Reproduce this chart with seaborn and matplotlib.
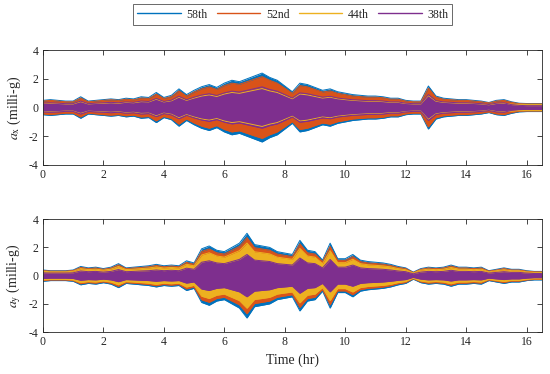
import numpy as np
import pandas as pd
import matplotlib.pyplot as plt
import seaborn as sns

# ---------------- data (peak amplitude envelope, milli-g, every 0.25 hr) ----------------
time_hr = np.linspace(0, 16.5, 67)
series_names = ['58th', '52nd', '44th', '38th']
series_colors = ['#0072BD', '#D95319', '#EDB120', '#7E2F8E']

ax_58 = [0.5, 0.55, 0.5, 0.45, 0.45, 0.75, 0.45, 0.5,
         0.55, 0.6, 0.55, 0.65, 0.6, 0.75, 0.7, 1.05,
         0.7, 0.85, 1.3, 0.9, 1.2, 1.45, 1.6, 1.4,
         1.7, 1.9, 1.8, 2.0, 2.2, 2.4, 2.1, 1.9,
         1.5, 1.1, 1.7, 1.6, 1.4, 1.2, 1.3, 1.1,
         1.0, 0.9, 0.85, 0.8, 0.8, 0.75, 0.65, 0.65,
         0.5, 0.45, 0.45, 1.5, 0.8, 0.65, 0.6, 0.55,
         0.55, 0.5, 0.45, 0.35, 0.5, 0.55, 0.4, 0.3,
         0.28, 0.28, 0.28]
ax_52 = [0.45, 0.5, 0.45, 0.4, 0.4, 0.66, 0.4, 0.45,
         0.5, 0.54, 0.5, 0.58, 0.54, 0.66, 0.63, 0.93,
         0.63, 0.76, 1.16, 0.8, 1.08, 1.3, 1.44, 1.26,
         1.53, 1.7, 1.62, 1.8, 1.98, 2.15, 1.9, 1.7,
         1.35, 0.99, 1.53, 1.44, 1.26, 1.08, 1.16, 0.99,
         0.9, 0.8, 0.76, 0.72, 0.72, 0.68, 0.58, 0.58,
         0.45, 0.4, 0.4, 1.35, 0.72, 0.58, 0.54, 0.5,
         0.5, 0.45, 0.4, 0.32, 0.45, 0.5, 0.36, 0.27,
         0.25, 0.25, 0.25]
ax_44 = [0.28, 0.3, 0.28, 0.25, 0.25, 0.41, 0.25, 0.28,
         0.3, 0.33, 0.3, 0.36, 0.33, 0.41, 0.39, 0.58,
         0.39, 0.47, 0.72, 0.5, 0.66, 0.8, 0.88, 0.77,
         0.94, 1.05, 0.99, 1.1, 1.21, 1.32, 1.16, 1.05,
         0.83, 0.61, 0.94, 0.88, 0.77, 0.66, 0.72, 0.61,
         0.55, 0.5, 0.47, 0.44, 0.44, 0.41, 0.36, 0.36,
         0.28, 0.25, 0.25, 0.83, 0.44, 0.36, 0.33, 0.3,
         0.3, 0.28, 0.25, 0.19, 0.28, 0.3, 0.24, 0.22,
         0.22, 0.22, 0.22]
ax_38 = [0.3, 0.33, 0.3, 0.27, 0.27, 0.45, 0.27, 0.3,
         0.33, 0.36, 0.33, 0.39, 0.36, 0.45, 0.42, 0.63,
         0.42, 0.51, 0.78, 0.54, 0.72, 0.87, 0.96, 0.84,
         1.02, 1.14, 1.08, 1.2, 1.32, 1.44, 1.26, 1.14,
         0.9, 0.66, 1.02, 0.96, 0.84, 0.72, 0.78, 0.66,
         0.6, 0.54, 0.51, 0.48, 0.48, 0.45, 0.39, 0.39,
         0.3, 0.27, 0.27, 0.9, 0.48, 0.39, 0.36, 0.33,
         0.33, 0.3, 0.27, 0.21, 0.3, 0.33, 0.2, 0.15,
         0.13, 0.13, 0.13]

ay_58 = [0.4, 0.35, 0.35, 0.35, 0.4, 0.65, 0.55, 0.6,
         0.5, 0.6, 0.85, 0.55, 0.6, 0.65, 0.7, 0.8,
         0.7, 0.75, 0.7, 1.05, 0.9, 1.9, 2.1, 1.8,
         1.7, 2.0, 2.3, 3.0, 2.2, 2.1, 2.0, 1.7,
         1.6, 1.5, 2.5, 1.8, 1.7, 1.1, 2.3, 1.2,
         1.2, 1.5, 1.1, 1.0, 0.95, 0.9, 0.8, 0.65,
         0.55, 0.25, 0.5, 0.6, 0.55, 0.6, 0.75, 0.6,
         0.6, 0.55, 0.6, 0.35, 0.45, 0.55, 0.45, 0.45,
         0.35, 0.3, 0.3]
ay_52 = [0.36, 0.32, 0.32, 0.32, 0.36, 0.58, 0.5, 0.54,
         0.45, 0.54, 0.76, 0.5, 0.54, 0.58, 0.63, 0.72,
         0.63, 0.68, 0.63, 0.94, 0.81, 1.71, 1.89, 1.62,
         1.53, 1.8, 2.07, 2.7, 1.98, 1.89, 1.8, 1.53,
         1.44, 1.35, 2.25, 1.62, 1.53, 0.99, 2.07, 1.08,
         1.08, 1.35, 0.99, 0.9, 0.86, 0.81, 0.72, 0.58,
         0.5, 0.22, 0.45, 0.54, 0.5, 0.54, 0.68, 0.54,
         0.54, 0.5, 0.54, 0.32, 0.4, 0.5, 0.4, 0.4,
         0.32, 0.27, 0.27]
ay_44 = [0.31, 0.27, 0.27, 0.27, 0.31, 0.5, 0.43, 0.46,
         0.39, 0.46, 0.65, 0.43, 0.46, 0.5, 0.54, 0.62,
         0.54, 0.58, 0.54, 0.81, 0.69, 1.46, 1.62, 1.39,
         1.31, 1.54, 1.77, 2.31, 1.69, 1.62, 1.54, 1.31,
         1.23, 1.16, 1.93, 1.39, 1.31, 0.85, 1.77, 0.92,
         0.92, 1.16, 0.85, 0.77, 0.73, 0.69, 0.62, 0.5,
         0.42, 0.19, 0.39, 0.46, 0.42, 0.46, 0.58, 0.46,
         0.46, 0.42, 0.46, 0.27, 0.35, 0.42, 0.35, 0.35,
         0.27, 0.23, 0.23]
ay_38 = [0.2, 0.18, 0.18, 0.18, 0.2, 0.33, 0.28, 0.3,
         0.25, 0.3, 0.43, 0.28, 0.3, 0.33, 0.35, 0.4,
         0.35, 0.38, 0.35, 0.53, 0.45, 0.95, 1.05, 0.9,
         0.85, 1.0, 1.15, 1.5, 1.1, 1.05, 1.0, 0.85,
         0.8, 0.75, 1.25, 0.9, 0.85, 0.55, 1.15, 0.6,
         0.6, 0.75, 0.55, 0.5, 0.48, 0.45, 0.4, 0.33,
         0.28, 0.13, 0.25, 0.3, 0.28, 0.3, 0.38, 0.3,
         0.3, 0.28, 0.3, 0.18, 0.23, 0.28, 0.23, 0.23,
         0.18, 0.15, 0.15]

x_ticks = [0, 2, 4, 6, 8, 10, 12, 14, 16]
y_ticks = [-4, -2, 0, 2, 4]

# ---------------- style ----------------
sns.set_theme(style='ticks')
plt.rcParams['font.family'] = ['Liberation Serif', 'DejaVu Serif']
plt.rcParams['mathtext.fontset'] = 'stix'
plt.rcParams['axes.unicode_minus'] = False

fig = plt.figure(figsize=(5.5, 3.74), dpi=100)
ax_top = fig.add_axes([0.078, 0.559, 0.907, 0.307])
ax_bot = fig.add_axes([0.078, 0.112, 0.907, 0.302])

panels = [(ax_top, [ax_58, ax_52, ax_44, ax_38], r'$a_{\mathrm{x}}$ (milli-g)'),
          (ax_bot, [ay_58, ay_52, ay_44, ay_38], r'$a_{\mathrm{y}}$ (milli-g)')]

for ax, amps, ylab in panels:
    for name, col, amp in zip(series_names, series_colors, amps):
        df = pd.DataFrame({'time': time_hr, 'upper': amp})
        df['lower'] = -df['upper']
        ax.fill_between(df['time'], df['lower'], df['upper'], color=col, lw=0)
        sns.lineplot(data=df, x='time', y='upper', color=col, lw=0.7, ax=ax, label=name)
        sns.lineplot(data=df, x='time', y='lower', color=col, lw=0.7, ax=ax)
    if ax.get_legend() is not None:
        ax.get_legend().remove()
    ax.set_xlim(0, 16.5)
    ax.set_ylim(-4, 4)
    ax.set_xticks(x_ticks)
    ax.set_yticks(y_ticks)
    ax.tick_params(direction='in', top=True, right=True, length=3.5, width=0.6,
                   labelsize=8.5, colors='#262626', pad=3)
    for sp in ax.spines.values():
        sp.set_visible(True)
        sp.set_linewidth(0.6)
        sp.set_color('#262626')
    ax.set_xlabel('')
    ax.set_ylabel(ylab, fontsize=10, color='#262626')
    ax.yaxis.set_label_coords(-0.04, 0.5)

ax_bot.set_xlabel('Time (hr)', fontsize=10, color='#262626', labelpad=4)

handles, labels = ax_top.get_legend_handles_labels()
leg = fig.legend(handles, labels, loc='center', bbox_to_anchor=(0.532, 0.961), ncol=4,
                 fontsize=8.5, frameon=True, fancybox=False, edgecolor='#262626',
                 handlelength=3.7, handletextpad=0.45, columnspacing=0.8,
                 borderpad=0.35)
leg.get_frame().set_linewidth(0.6)
for ln in leg.get_lines():
    ln.set_linewidth(1.0)

fig.savefig('out.png', dpi=100)
